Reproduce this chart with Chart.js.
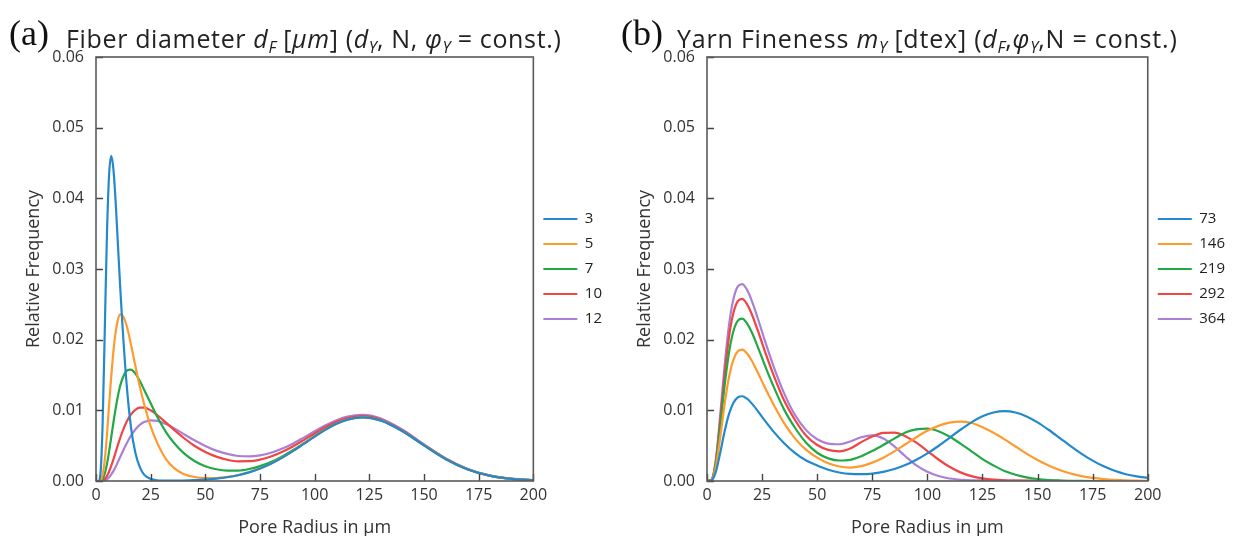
<!DOCTYPE html>
<html>
<head>
<meta charset="utf-8">
<script src="https://cdn.jsdelivr.net/npm/chart.js@4.4.1/dist/chart.umd.min.js"></script>
<style>
  body { margin: 0; background: #fff; width: 1235px; height: 536px; position: relative; overflow: hidden; font-family: "Open Sans", sans-serif; }
  canvas { position: absolute; top: 0; }
  #chartA { left: 0; }
  #chartB { left: 620px; }
  .tag { position: absolute; top: 15px; font-family: "Liberation Serif", serif; font-size: 36px; line-height: 1; color: #111; }
  .title { position: absolute; top: 26px; font-size: 25px; letter-spacing: 0.65px; line-height: 1; color: #222; white-space: nowrap; }
  .title sub { font-size: 16px; vertical-align: -5px; line-height: 0; letter-spacing: 0; }
</style>
</head>
<body>
<canvas id="chartA" width="620" height="536"></canvas>
<canvas id="chartB" width="615" height="536"></canvas>
<div class="tag" style="left:9px">(a)</div>
<div class="title" style="left:66px">Fiber diameter <i>d<sub>F</sub></i> [<i>μm</i>] (<i>d<sub>Y</sub></i>, N, <i>φ<sub>Y</sub></i> = const.)</div>
<div class="tag" style="left:621px">(b)</div>
<div class="title" style="left:677px; letter-spacing:0.8px">Yarn Fineness <i>m<sub>Y</sub></i> [dtex] (<i>d<sub>F</sub></i>,<i>φ<sub>Y</sub></i>,N = const.)</div>
<script>
// (a) fiber diameter series, pore radius in µm
const radiusA = [0, 1, 2, 3, 4, 5, 6, 7, 8, 9, 10, 11, 12, 14, 16, 18, 20, 22, 25, 28, 32, 36, 40, 45, 50, 55, 60, 65, 70, 75, 80, 85, 90, 95, 100, 105, 110, 115, 122, 130, 140, 150, 160, 170, 180, 190, 200];
const fiberLabels = ['3', '5', '7', '10', '12'];
const fiber3 = [0, 0, 0.00095, 0.0078, 0.0212, 0.0348, 0.0434, 0.0460, 0.0440, 0.0394, 0.0336, 0.0278, 0.0225, 0.0137, 0.0076, 0.0040, 0.0020, 0.0009, 0.0003, 0.0001, 0.00005, 0.00004, 0.00006, 0.00011, 0.0002, 0.00033, 0.00053, 0.00081, 0.00122, 0.00176, 0.00244, 0.00327, 0.00422, 0.00525, 0.00629, 0.00727, 0.00809, 0.00868, 0.0090, 0.00858, 0.00708, 0.00504, 0.00309, 0.00164, 0.00075, 0.00029, 0.0001];
const fiber5 = [0, 0, 0.00008, 0.00084, 0.0030, 0.0065, 0.0108, 0.0149, 0.0185, 0.0211, 0.0228, 0.0236, 0.0235, 0.0220, 0.0193, 0.0163, 0.0134, 0.0109, 0.00774, 0.0054, 0.0031, 0.00175, 0.0010, 0.00056, 0.0004, 0.00042, 0.00058, 0.00084, 0.00125, 0.00178, 0.00246, 0.00328, 0.00423, 0.00526, 0.0063, 0.00728, 0.0081, 0.00869, 0.0090, 0.00859, 0.00708, 0.00504, 0.00309, 0.00164, 0.00075, 0.00029, 0.0001];
const fiber7 = [0, 0, 0.00003, 0.00029, 0.00103, 0.00237, 0.0042, 0.00626, 0.00835, 0.0103, 0.0120, 0.0134, 0.0144, 0.0156, 0.01575, 0.0152, 0.0142, 0.0129, 0.0110, 0.00909, 0.00693, 0.00526, 0.00397, 0.00283, 0.0021, 0.00166, 0.00147, 0.00148, 0.0017, 0.00211, 0.00269, 0.00345, 0.00435, 0.00535, 0.00636, 0.00732, 0.00813, 0.00871, 0.00902, 0.0086, 0.00709, 0.00505, 0.0031, 0.00165, 0.00076, 0.0003, 0.0001];
const fiber10 = [0, 0, 0.00001, 0.00008, 0.00029, 0.00071, 0.00135, 0.00216, 0.00309, 0.00408, 0.00509, 0.00603, 0.00692, 0.00839, 0.00944, 0.01008, 0.01037, 0.01037, 0.0100, 0.00934, 0.00826, 0.00716, 0.00612, 0.00499, 0.00411, 0.00345, 0.00301, 0.00279, 0.0028, 0.00303, 0.00346, 0.00409, 0.00488, 0.00579, 0.00673, 0.00763, 0.00838, 0.00892, 0.00919, 0.00873, 0.00718, 0.00511, 0.00314, 0.00167, 0.00077, 0.0003, 0.00011];
const fiber12 = [0, 0, 0, 0.00002, 0.00009, 0.00025, 0.00053, 0.00093, 0.00143, 0.00202, 0.00268, 0.00335, 0.00403, 0.00531, 0.00642, 0.00729, 0.00794, 0.00834, 0.00858, 0.00851, 0.00805, 0.00741, 0.00667, 0.00576, 0.00496, 0.0043, 0.00383, 0.00354, 0.00348, 0.00363, 0.00399, 0.00455, 0.00528, 0.00614, 0.00703, 0.00789, 0.00861, 0.00912, 0.00935, 0.00887, 0.00728, 0.00518, 0.00319, 0.00171, 0.0008, 0.00033, 0.00013];

// (b) yarn fineness series
const radiusB = [0, 2, 4, 6, 8, 10, 12, 14, 16, 18, 20, 23, 26, 30, 35, 40, 45, 50, 55, 60, 65, 70, 75, 80, 85, 90, 95, 100, 105, 110, 115, 120, 125, 130, 135, 140, 145, 150, 155, 160, 165, 170, 175, 180, 185, 190, 195, 200];
const yarnLabels = ['73', '146', '219', '292', '364'];
const yarn73 = [0, 0.00007, 0.00128, 0.0040, 0.00703, 0.0095, 0.01108, 0.01184, 0.01199, 0.01168, 0.01109, 0.00992, 0.00865, 0.00706, 0.00535, 0.00395, 0.0029, 0.0022, 0.0016, 0.0012, 0.0010, 0.00097, 0.00105, 0.0013, 0.0017, 0.00225, 0.0030, 0.0039, 0.00495, 0.0061, 0.00725, 0.0083, 0.00915, 0.0097, 0.00989, 0.00969, 0.00914, 0.0083, 0.00725, 0.0061, 0.00493, 0.00384, 0.00288, 0.00207, 0.00144, 0.00096, 0.00065, 0.00045];
const yarn146 = [0, 0.00011, 0.00199, 0.00621, 0.0109, 0.01473, 0.01717, 0.01836, 0.01858, 0.0181, 0.01719, 0.01538, 0.01341, 0.01094, 0.0082, 0.0060, 0.0044, 0.0033, 0.0025, 0.00205, 0.0019, 0.0021, 0.0026, 0.0033, 0.0042, 0.0052, 0.0062, 0.0071, 0.0078, 0.00825, 0.0084, 0.0082, 0.00762, 0.00683, 0.00589, 0.00488, 0.00388, 0.00297, 0.00219, 0.00155, 0.00106, 0.00069, 0.00043, 0.00026, 0.00015, 0.00008, 0.00004, 0.00002];
const yarn219 = [0, 0.00014, 0.00246, 0.00768, 0.01348, 0.01822, 0.02123, 0.0227, 0.02298, 0.02238, 0.02125, 0.01902, 0.01658, 0.01352, 0.0101, 0.0075, 0.0054, 0.0040, 0.0032, 0.0029, 0.0030, 0.0035, 0.00425, 0.0051, 0.0060, 0.00685, 0.0073, 0.0074, 0.00705, 0.0063, 0.0053, 0.0042, 0.0031, 0.0022, 0.00142, 0.00089, 0.00052, 0.00028, 0.00014, 0.00007, 0.00003, 0.00001, 0, 0, 0, 0, 0, 0];
const yarn292 = [0, 0.00015, 0.00276, 0.00862, 0.01512, 0.02043, 0.02381, 0.02546, 0.02577, 0.0251, 0.02384, 0.02134, 0.0186, 0.01517, 0.0114, 0.0086, 0.0064, 0.0051, 0.0044, 0.0042, 0.0046, 0.0055, 0.0063, 0.0068, 0.00685, 0.00635, 0.00542, 0.00423, 0.00304, 0.00201, 0.00122, 0.00069, 0.00037, 0.00019, 0.0001, 0.00006, 0.00004, 0.00003, 0.00002, 0.00001, 0, 0, 0, 0, 0, 0, 0, 0];
const yarn364 = [0, 0.00017, 0.00299, 0.00932, 0.01635, 0.0221, 0.02575, 0.02754, 0.02787, 0.02715, 0.02578, 0.02307, 0.02012, 0.01641, 0.0124, 0.0093, 0.0072, 0.0059, 0.0053, 0.0052, 0.0056, 0.0062, 0.00645, 0.0060, 0.0049, 0.0035, 0.0022, 0.0013, 0.0007, 0.00035, 0.00018, 0.0001, 0.00008, 0.00006, 0.00005, 0.00004, 0.00003, 0.00002, 0.00001, 0, 0, 0, 0, 0, 0, 0, 0, 0];

const xTicks = [0, 25, 50, 75, 100, 125, 150, 175, 200];
const yTicks = [0, 0.01, 0.02, 0.03, 0.04, 0.05, 0.06];
const colors = ['#2389cc', '#ff9a2e', '#22a845', '#ef4545', '#ad7fd4'];

// inward ticks and box frame like matplotlib
const frameTicks = {
    id: 'frameTicks',
    afterDatasetsDraw(chart) {
        const { ctx, chartArea: a, scales: { x, y } } = chart;
        ctx.save();
        ctx.strokeStyle = '#444';
        ctx.lineWidth = 1.4;
        ctx.beginPath();
        xTicks.forEach(v => {
            const px = Math.round(x.getPixelForValue(v)) + 0.5;
            ctx.moveTo(px, a.bottom);
            ctx.lineTo(px, a.bottom - 7);
        });
        yTicks.forEach(v => {
            const py = Math.round(y.getPixelForValue(v)) + 0.5;
            ctx.moveTo(a.left, py);
            ctx.lineTo(a.left + 7, py);
        });
        ctx.stroke();
        ctx.lineWidth = 1.6;
        ctx.strokeStyle = '#5a5a5a';
        ctx.strokeRect(a.left, a.top, a.right - a.left, a.bottom - a.top);
        ctx.restore();
    }
};

function toPoints(xs, ys) {
    return xs.map((r, i) => ({ x: r, y: ys[i] }));
}

function makeChart(id, xs, labels, series, yWidth, titlePad, padRight) {
    new Chart(document.getElementById(id).getContext('2d'), {
        type: 'line',
        data: {
            datasets: series.map((s, i) => ({
                label: labels[i],
                data: toPoints(xs, s),
                borderColor: colors[i],
                backgroundColor: colors[i],
                borderWidth: 2.2,
                pointRadius: 0,
                cubicInterpolationMode: 'monotone',
                fill: false
            }))
        },
        options: {
            responsive: false,
            animation: false,
            layout: { padding: { top: 57, left: 0, right: padRight, bottom: 0 } },
            plugins: {
                tooltip: { enabled: false },
                legend: {
                    position: 'right',
                    align: 'center',
                    fullSize: false,
                    labels: {
                        usePointStyle: true,
                        pointStyle: 'line',
                        pointStyleWidth: 34,
                        padding: 10,
                        color: '#222',
                        font: { family: 'Open Sans', size: 15 }
                    }
                }
            },
            scales: {
                x: {
                    type: 'linear',
                    min: 0,
                    max: 200,
                    afterFit(scale) { scale.height = 55; },
                    afterBuildTicks(scale) { scale.ticks = xTicks.map(v => ({ value: v })); },
                    grid: { display: false, drawTicks: false },
                    border: { display: false },
                    ticks: { color: '#333', padding: 5, maxRotation: 0, font: { family: 'Open Sans', size: 16 } },
                    title: { display: true, text: 'Pore Radius in μm', color: '#333', padding: { top: 0, bottom: -3 }, font: { family: 'Open Sans', size: 18 } }
                },
                y: {
                    min: 0,
                    max: 0.06,
                    afterFit(scale) { scale.width = yWidth; },
                    afterBuildTicks(scale) { scale.ticks = yTicks.map(v => ({ value: v })); },
                    grid: { display: false, drawTicks: false },
                    border: { display: false },
                    ticks: { color: '#333', padding: 12, callback: v => v.toFixed(2), font: { family: 'Open Sans', size: 16 } },
                    title: { display: true, text: 'Relative Frequency', color: '#333', padding: { top: titlePad, bottom: 0 }, font: { family: 'Open Sans', size: 18 } }
                }
            }
        },
        plugins: [frameTicks]
    });
}

makeChart('chartA', radiusA, fiberLabels, [fiber3, fiber5, fiber7, fiber10, fiber12], 96, 23, 8);
makeChart('chartB', radiusB, yarnLabels, [yarn73, yarn146, yarn219, yarn292, yarn364], 87, 14, 0);
</script>
</body>
</html>
